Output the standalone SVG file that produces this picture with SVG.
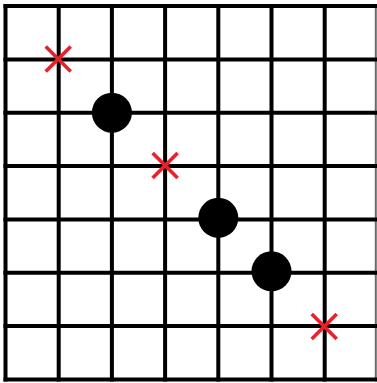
<svg xmlns="http://www.w3.org/2000/svg" width="377" height="383" viewBox="0 0 377 383">
<style>
.g line{stroke:#000;stroke-width:4}
.g line.edge{stroke:#6a6a6a;stroke-width:2}
.stone{fill:#000}
.x line{stroke:#e8212b;stroke-width:3.6;stroke-linecap:butt}
</style>
<rect width="377" height="383" fill="#fff"/>
<g id="connectors" class="g">
<line x1="5.5" y1="4" x2="5.5" y2="381.5"/>
<line x1="58.7" y1="4" x2="58.7" y2="381.5"/>
<line x1="111.9" y1="4" x2="111.9" y2="381.5"/>
<line x1="165.1" y1="4" x2="165.1" y2="381.5"/>
<line x1="218.3" y1="4" x2="218.3" y2="381.5"/>
<line x1="271.5" y1="4" x2="271.5" y2="381.5"/>
<line x1="324.7" y1="4" x2="324.7" y2="381.5"/>
<line class="edge" x1="375.8" y1="4" x2="375.8" y2="381.5"/>
<line x1="3.5" y1="6" x2="377" y2="6"/>
<line x1="3.5" y1="59.4" x2="377" y2="59.4"/>
<line x1="3.5" y1="112.7" x2="377" y2="112.7"/>
<line x1="3.5" y1="166.1" x2="377" y2="166.1"/>
<line x1="3.5" y1="219.4" x2="377" y2="219.4"/>
<line x1="3.5" y1="272.8" x2="377" y2="272.8"/>
<line x1="3.5" y1="326.1" x2="377" y2="326.1"/>
<line x1="3.5" y1="379.5" x2="377" y2="379.5"/>
</g>
<g id="stone1"><circle class="stone" cx="111.9" cy="112.7" r="20"/></g>
<g id="stone2"><circle class="stone" cx="218.3" cy="217.8" r="20"/></g>
<g id="stone3"><circle class="stone" cx="271.5" cy="271.3" r="20"/></g>
<g id="mark1" class="x"><line x1="45.7" y1="46.4" x2="70.7" y2="71.4"/><line x1="70.7" y1="46.4" x2="45.7" y2="71.4"/></g>
<g id="mark2" class="x"><line x1="152.6" y1="153.1" x2="177.6" y2="178.1"/><line x1="177.6" y1="153.1" x2="152.6" y2="178.1"/></g>
<g id="mark3" class="x"><line x1="311.7" y1="313.9" x2="336.7" y2="338.9"/><line x1="336.7" y1="313.9" x2="311.7" y2="338.9"/></g>
</svg>
